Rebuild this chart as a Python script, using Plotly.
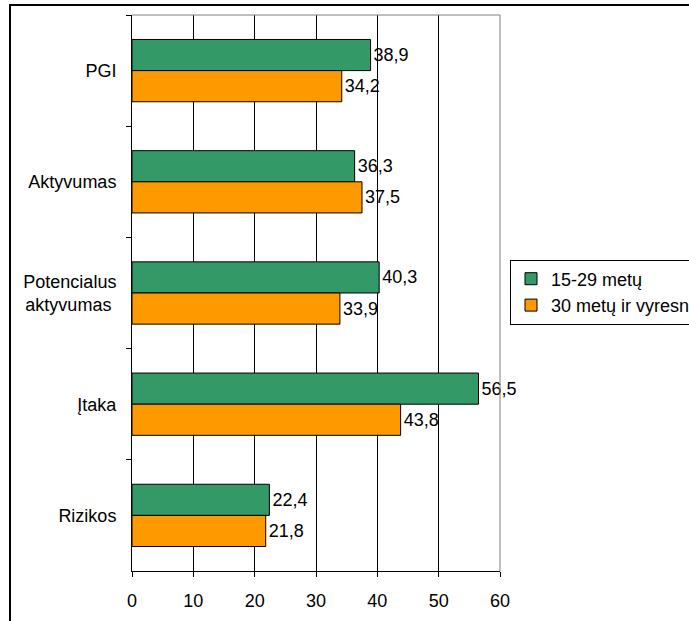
import plotly.graph_objects as go

categories = ["PGI", "Aktyvumas", "Potencialus<br>aktyvumas\u00a0", "Įtaka", "Rizikos"]
young = [38.9, 36.3, 40.3, 56.5, 22.4]
older = [34.2, 37.5, 33.9, 43.8, 21.8]
series_names = ["15-29 metų", "30 metų ir vyresni"]
x_ticks = [0, 10, 20, 30, 40, 50, 60]

W, H = 689, 621
L, R, T, B = 132, 500, 15, 571

font = dict(family="Liberation Sans, Arial, sans-serif", size=18, color="black")

fig = go.Figure()
for name, vals, color in [(series_names[0], young, "#339966"), (series_names[1], older, "#FF9900")]:
    fig.add_trace(go.Bar(
        y=categories, x=vals, name=name, orientation="h",
        marker=dict(color=color, line=dict(color="black", width=1)),
        texttemplate="%{x:.1f}", textposition="outside",
        textfont=font, constraintext="none", cliponaxis=False,
    ))

fig.update_layout(
    width=W, height=H,
    margin=dict(l=L, r=W - R, t=T, b=H - B, autoexpand=False),
    paper_bgcolor="white", plot_bgcolor="white",
    font=font, separators=",.",
    barmode="group", bargap=0.44, bargroupgap=0,
    legend=dict(x=(510 - L) / (R - L), y=(B - 292) / (B - T),
                xanchor="left", yanchor="middle",
                bordercolor="black", borderwidth=1, font=font, itemwidth=30,
                tracegroupgap=0),
    showlegend=True,
)
fig.update_xaxes(range=[0, 60], tickvals=x_ticks, showgrid=True, gridcolor="black", gridwidth=1,
                 showline=True, linecolor="black", linewidth=1, ticks="outside", ticklen=5,
                 tickcolor="black", zeroline=False, ticklabelstandoff=8)
fig.update_yaxes(autorange="reversed", showline=True, linecolor="black", linewidth=1,
                 ticks="outside", ticklen=5, tickcolor="black", tickson="boundaries",
                 showgrid=False, ticklabelstandoff=11)

# plot-area frame (top and right in grey) and outer chart border
fig.add_shape(type="line", xref="paper", yref="paper", x0=0, x1=1, y0=1, y1=1,
              line=dict(color="#808080", width=1), layer="above")
fig.add_shape(type="line", xref="paper", yref="paper", x0=1, x1=1, y0=0, y1=1,
              line=dict(color="#808080", width=1), layer="above")
fig.add_shape(type="rect", xref="paper", yref="paper",
              x0=(10 - L) / (R - L), x1=3, y0=-1, y1=(B - 5) / (B - T),
              line=dict(color="black", width=2), layer="above")

# drop the default page margin so the figure sits at the window's corner
fig.write_html("out.html", config={"displayModeBar": False},
               post_script="document.body.style.margin='0';")
